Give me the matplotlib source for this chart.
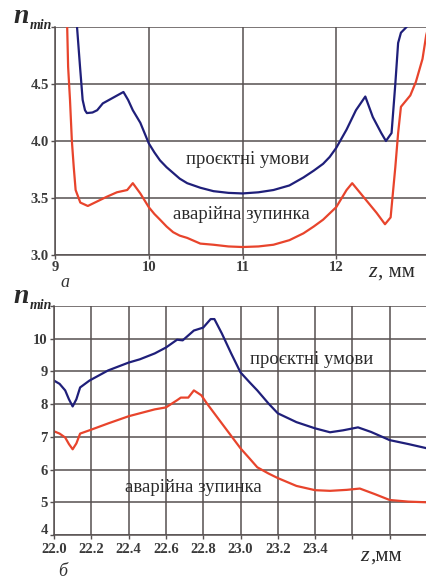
import matplotlib
matplotlib.use("Agg")
import matplotlib.pyplot as plt
import matplotlib.transforms as mtransforms

plt.rcParams['font.family'] = ['Liberation Serif', 'DejaVu Serif']

# ---------- data: panel a ----------
a_blue_z = [9.225, 9.235, 9.267, 9.295, 9.32, 9.34, 9.40, 9.45, 9.51, 9.62, 9.73, 9.78, 9.83, 9.91,
            10.0, 10.06, 10.12, 10.19, 10.26, 10.33, 10.41, 10.55, 10.69, 10.85, 11.0, 11.17,
            11.33, 11.50, 11.65, 11.76, 11.86, 11.93, 12.0, 12.11, 12.21, 12.31, 12.39, 12.48,
            12.53, 12.59, 12.63, 12.66, 12.69, 12.75, 12.79]
a_blue_n = [5.10, 5.00, 4.65, 4.36, 4.27, 4.245, 4.25, 4.27, 4.33, 4.38, 4.43, 4.36, 4.27, 4.16,
            3.98, 3.90, 3.83, 3.77, 3.72, 3.67, 3.63, 3.59, 3.56, 3.545, 3.54, 3.55,
            3.57, 3.61, 3.68, 3.74, 3.80, 3.86, 3.94, 4.10, 4.27, 4.39, 4.21, 4.07,
            4.00, 4.07, 4.50, 4.86, 4.95, 5.00, 5.06]
a_red_z = [9.12, 9.13, 9.14, 9.16, 9.18, 9.20, 9.22, 9.27, 9.35, 9.45, 9.55, 9.66, 9.77, 9.83,
           9.91, 10.0, 10.06, 10.12, 10.19, 10.26, 10.33, 10.41, 10.55, 10.69, 10.85, 11.0,
           11.17, 11.33, 11.50, 11.65, 11.76, 11.86, 12.0, 12.11, 12.17, 12.29, 12.43, 12.52,
           12.58, 12.63, 12.66, 12.69, 12.72, 12.79, 12.85, 12.92, 12.96, 13.0]
a_red_n = [5.10, 5.00, 4.65, 4.36, 4.00, 3.77, 3.57, 3.46, 3.43, 3.47, 3.51, 3.55, 3.57, 3.63,
           3.54, 3.42, 3.36, 3.31, 3.25, 3.20, 3.17, 3.15, 3.10, 3.09, 3.075, 3.07,
           3.075, 3.09, 3.13, 3.19, 3.25, 3.31, 3.42, 3.57, 3.63, 3.51, 3.37, 3.27,
           3.33, 3.77, 4.07, 4.30, 4.33, 4.40, 4.52, 4.72, 4.93, 5.05]

# ---------- data: panel b ----------
b_blue_z = [22.0, 22.03, 22.06, 22.08, 22.10, 22.12, 22.14, 22.19, 22.29, 22.40, 22.46, 22.54,
            22.60, 22.66, 22.69, 22.75, 22.80, 22.84, 22.86, 22.90, 22.95, 23.0, 23.05, 23.09,
            23.15, 23.2, 23.3, 23.4, 23.48, 23.55, 23.63, 23.7, 23.8, 23.9, 24.0]
b_blue_n = [8.72, 8.62, 8.42, 8.15, 7.93, 8.15, 8.51, 8.72, 9.03, 9.27, 9.37, 9.55,
            9.73, 9.97, 9.95, 10.25, 10.34, 10.60, 10.60, 10.16, 9.55, 8.97, 8.66, 8.42,
            8.02, 7.72, 7.45, 7.26, 7.14, 7.20, 7.29, 7.15, 6.90, 6.78, 6.65]
b_red_z = [22.0, 22.03, 22.06, 22.08, 22.10, 22.12, 22.14, 22.19, 22.29, 22.40, 22.54, 22.60,
           22.66, 22.68, 22.72, 22.75, 22.79, 22.82, 22.90, 23.0, 23.05, 23.09, 23.15, 23.2,
           23.3, 23.4, 23.48, 23.57, 23.64, 23.72, 23.8, 23.9, 24.0]
b_red_n = [7.17, 7.10, 6.98, 6.78, 6.62, 6.80, 7.10, 7.20, 7.41, 7.63, 7.84, 7.90,
           8.12, 8.20, 8.20, 8.42, 8.27, 8.02, 7.41, 6.65, 6.33, 6.07, 5.88, 5.74,
           5.50, 5.37, 5.35, 5.38, 5.42, 5.25, 5.07, 5.02, 5.00]

a_xticks = [9, 10, 11, 12, 13]
a_xlabels = ['9', '10', '11', '12', '']
a_yticks = [3.0, 3.5, 4.0, 4.5, 5.0]
a_ylabels = ['3.0', '3.5', '4.0', '4.5', '']
b_xticks = [22.0, 22.2, 22.4, 22.6, 22.8, 23.0, 23.2, 23.4, 23.6, 23.8, 24.0]
b_xlabels = ['22.0', '22.2', '22.4', '22.6', '22.8', '23.0', '23.2', '23.4', '', '', '']
b_yticks = [4, 5, 6, 7, 8, 9, 10, 11]
b_ylabels = ['4', '5', '6', '7', '8', '9', '10', '']

BLUE = '#1f1f7a'
RED = '#e8442c'
GRID = '#565050'
TXT = '#2a2a2a'

W, H = 426, 579
fig = plt.figure(figsize=(W / 100, H / 100), dpi=100)


def px_axes(l, t, r, b):
    return fig.add_axes([l / W, 1 - b / H, (r - l) / W, (b - t) / H])


def style(ax, xt, xl, yt, yl, xlim, ylim, xpad=1.5):
    ax.set_xlim(*xlim)
    ax.set_ylim(*ylim)
    ax.set_xticks(xt)
    ax.set_xticklabels(xl)
    ax.set_yticks(yt)
    ax.set_yticklabels(yl)
    ax.grid(True, color=GRID, lw=1.1)
    ax.set_axisbelow(True)
    for s in ax.spines.values():
        s.set_visible(False)
    for side in ('left', 'bottom'):
        ax.spines[side].set_visible(True)
        ax.spines[side].set_color(GRID)
        ax.spines[side].set_linewidth(1.1)
    ax.tick_params(direction='out', length=3, width=1, color=GRID, pad=1.5,
                   labelsize=10.5, labelcolor='#3a3a3a')
    ax.tick_params(axis='x', pad=xpad)
    for lab in ax.get_xticklabels() + ax.get_yticklabels():
        lab.set_fontweight('bold')


LBL = 13.5

# panel a
ax1 = px_axes(55, 27, 430, 255)
style(ax1, a_xticks, a_xlabels, a_yticks, a_ylabels, (9, 13), (3.0, 5.0))
ax1.plot(a_blue_z, a_blue_n, color=BLUE, lw=1.6)
ax1.plot(a_red_z, a_red_n, color=RED, lw=1.6)
fig.text(248 / W, 1 - 160 / H, 'проєктні умови', ha='center', va='center',
         fontsize=LBL, color=TXT)
fig.text(241 / W, 1 - 214 / H, 'аварійна зупинка', ha='center', va='center',
         fontsize=LBL, color=TXT)

# panel b
ax2 = px_axes(54, 306, 427, 535)
style(ax2, b_xticks, b_xlabels, b_yticks, b_ylabels, (22.0, 24.0), (4, 11), xpad=2.5)
ax2.plot(b_blue_z, b_blue_n, color=BLUE, lw=1.6)
ax2.plot(b_red_z, b_red_n, color=RED, lw=1.6)
fig.text(312 / W, 1 - 360 / H, 'проєктні умови', ha='center', va='center',
         fontsize=LBL, color=TXT)
fig.text(193 / W, 1 - 488 / H, 'аварійна зупинка', ha='center', va='center',
         fontsize=LBL, color=TXT)

# lift the lowest y label of panel b slightly so it clears the "22.0" label
lift = mtransforms.ScaledTranslation(0, 4 / 72, fig.dpi_scale_trans)
lowest = ax2.get_yticklabels()[0]
lowest.set_transform(lowest.get_transform() + lift)


def nmin(x, y):
    fig.text(x / W, 1 - y / H, 'n', fontsize=20, fontstyle='italic', fontweight='bold',
             ha='left', va='baseline', color=TXT)
    fig.text((x + 17) / W, 1 - (y + 6) / H, 'min', fontsize=10, fontstyle='italic',
             fontweight='bold', ha='left', va='baseline', color=TXT)

nmin(13, 23)
nmin(13, 303)


def zlabel(x, y, sep):
    fig.text(x / W, 1 - y / H, 'z', fontsize=16, fontstyle='italic',
             ha='left', va='baseline', color=TXT)
    fig.text((x + 10) / W, 1 - y / H, sep + 'мм', fontsize=15,
             ha='left', va='baseline', color=TXT)

zlabel(368, 277, ', ')
zlabel(360, 561, ',')

fig.text(65 / W, 1 - 287 / H, 'а', fontsize=13, fontstyle='italic', ha='center',
         va='baseline', color='#333333')
fig.text(63 / W, 1 - 576 / H, 'б', fontsize=13, fontstyle='italic', ha='center',
         va='baseline', color='#333333')

fig.savefig('out.png', dpi=100)
